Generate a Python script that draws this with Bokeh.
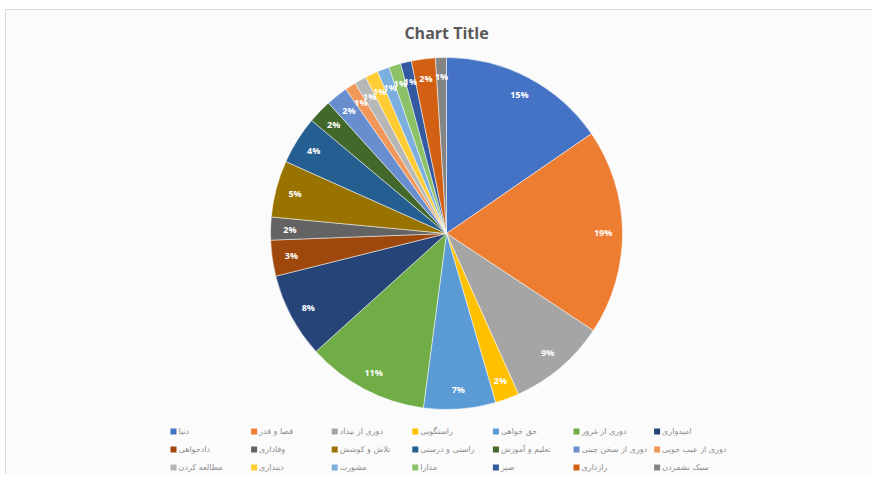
import math
from bokeh.plotting import figure
from bokeh.models import ColumnDataSource, Range1d
from bokeh.core.properties import value
from bokeh.embed import file_html
from bokeh.resources import INLINE

categories = [
    "دنیا", "قضا و قدر", "دوری از بیداد", "راستگویی", "حق خواهی", "دوری از غرور", "امیدواری",
    "دادخواهی", "وفاداری", "تلاش و کوشش", "راستی و درستی", "تعلیم و آموزش", "دوری از سخن چینی", "دوری از عیب جویی",
    "مطالعه کردن", "دینداری", "مشورت", "مدارا", "صبر", "رازداری", "سبک نشمردن",
]
shares = [15.4, 18.9, 9.0, 2.2, 6.6, 11.2, 7.8,
          3.3, 2.1, 5.2, 4.4, 2.2, 2.0, 1.0,
          1.1, 1.2, 1.1, 1.1, 1.0, 2.2, 1.0]
colors = ["#4472C4", "#ED7D31", "#A5A5A5", "#FFC000", "#5B9BD5", "#70AD47", "#264478",
          "#9E480E", "#636363", "#997300", "#255E91", "#43682B", "#698ED0", "#F1975A",
          "#B7B7B7", "#FFCD33", "#7CAFDD", "#8CC168", "#335AA1", "#D26012", "#848484"]
title_text = "Chart Title"

W, H = 872, 474


def px(x):
    return x


def py(y):
    return H - y


p = figure(width=W, height=H, x_range=Range1d(0, W), y_range=Range1d(0, H),
           output_backend="svg", toolbar_location=None, min_border=0)
p.axis.visible = False
p.grid.visible = False
p.outline_line_color = None
p.background_fill_color = "white"
p.border_fill_color = "white"

# chart area frame (top/left edges visible, right/bottom run off the page)
p.quad(left=[px(5)], right=[px(W + 20)], top=[py(9)], bottom=[py(H + 20)],
       fill_color="#FBFBFB", line_color="#D9D9D9", line_width=1)

total = sum(shares)
cx, cy, R = px(446), py(233), 176
starts, ends, lx, ly, labels = [], [], [], [], []
cum = 0.0
for v in shares:
    a0 = math.pi / 2 - 2 * math.pi * cum / total
    cum += v
    a1 = math.pi / 2 - 2 * math.pi * cum / total
    starts.append(a0)
    ends.append(a1)
    mid = (a0 + a1) / 2
    lx.append(cx + 0.89 * R * math.cos(mid))
    ly.append(cy + 0.89 * R * math.sin(mid))
    labels.append(f"{round(v / total * 100)}%")

src = ColumnDataSource(dict(start=starts, end=ends, color=colors, cat=categories))
p.wedge(x=cx, y=cy, radius=R, start_angle="start", end_angle="end", direction="clock",
        fill_color="color", line_color="white", line_width=0.5, source=src)

p.text(x=lx, y=ly, text=labels, text_color="white", text_font=value("Open Sans"),
       text_font_size="9px", text_font_style="bold", text_align="center", text_baseline="middle")

p.text(x=[px(446)], y=[py(32)], text=[title_text], text_color="#595959",
       text_font=value("Open Sans"), text_font_size="16px", text_font_style="bold",
       text_align="center", text_baseline="middle")

sqx, sqy, tx, ty = [], [], [], []
for i, c in enumerate(categories):
    row, col = divmod(i, 7)
    x0 = 170 + 80.6 * col
    y0 = 431 + 18 * row
    sqx.append(px(x0 + 3))
    sqy.append(py(y0))
    tx.append(px(x0 + 8))
    ty.append(py(y0))
p.rect(x=sqx, y=sqy, width=6, height=6, fill_color=colors, line_color=None)
p.text(x=tx, y=ty, text=categories, text_color="#8C8C8C", text_font=value("DejaVu Sans"),
       text_font_size="8px", text_align="left", text_baseline="middle")

open("out.html", "w").write(file_html(p, INLINE))
